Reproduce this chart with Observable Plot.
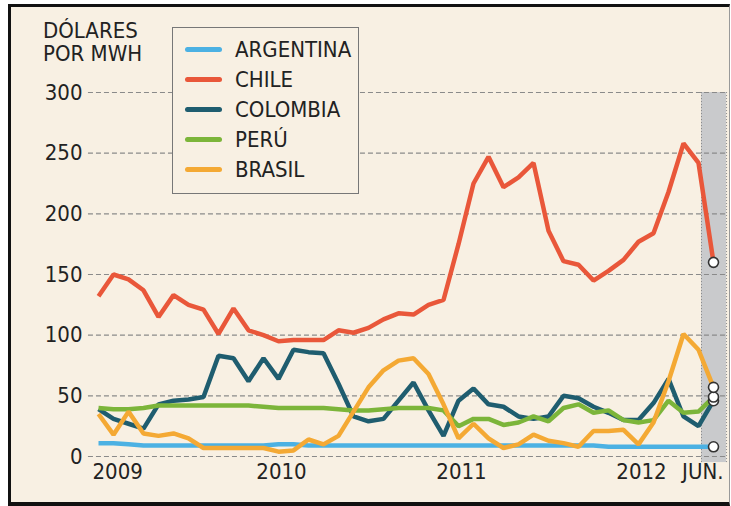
<!DOCTYPE html>
<html><head><meta charset="utf-8">
<script src="https://cdn.jsdelivr.net/npm/d3@7"></script>
<script src="https://cdn.jsdelivr.net/npm/@observablehq/plot@0.6"></script>
<style>
body{margin:0;background:#fff;}
#wrap{position:relative;width:731px;height:506px;overflow:hidden;font-family:"Liberation Sans Narrow","DejaVu Sans Condensed","Arial Narrow",sans-serif;font-stretch:condensed;color:#222;}
#frame{position:absolute;left:8px;top:4px;width:722px;height:502px;background:#f8f0e3;border-left:3px solid #111;border-top:3px solid #111;border-bottom:4px solid #111;border-right:1px solid #999;box-sizing:border-box;}
#chart{position:absolute;left:0;top:0;}
#ytitle{position:absolute;left:43px;top:19px;font-size:22px;line-height:23px;}
#legend{position:absolute;left:172px;top:27px;width:187px;height:167px;border:1.5px solid #777;box-sizing:border-box;background:#f8f0e3;padding-top:6px;}
.row{height:30px;display:flex;align-items:center;font-size:22px;}
.sw{width:37px;height:5px;border-radius:3px;margin-left:12px;margin-right:13px;}
</style></head>
<body>
<div id="wrap">
  <div id="frame"></div>
  <div id="chart"></div>
  <div id="ytitle">DÓLARES<br>POR MWH</div>
  <div id="legend"></div>
</div>
<script>
const seriesNames = ["ARGENTINA","CHILE","COLOMBIA","PERÚ","BRASIL"];
const seriesColors = ["#4cb1e3","#e9573a","#1f5d6f","#7cb53a","#f4a934"];
const yTicks = [0,50,100,150,200,250,300];
const xTickIndex = [0,12,24,36,41];
const xTickLabels = ["2009","2010","2011","2012","JUN."];
// monthly values, Jan 2009 .. Jun 2012
const argentina = [11,11,10,9,9,9,9,9,9,9,9,9, 10,10,9,9,9,9,9,9,9,9,9,9, 9,9,9,9,9,9,9,9,9,9,8,8, 8,8,8,8,8,8];
const chile = [132,150,146,137,115,133,125,121,101,122,104,100, 95,96,96,96,104,102,106,113,118,117,125,129, 175,225,247,222,230,242,186,161,158,145,153,162, 177,184,218,258,242,160];
const colombia = [39,31,27,23,43,46,47,49,83,81,62,81, 64,88,86,85,60,33,29,31,46,61,38,17, 46,56,43,41,33,31,33,50,48,41,36,30, 30,44,64,33,25,46];
const peru = [40,39,39,40,42,42,42,42,42,42,42,41, 40,40,40,40,39,38,38,39,40,40,40,38, 25,31,31,26,28,33,29,40,43,36,38,30, 28,30,46,36,37,49];
const brasil = [35,18,37,19,17,19,15,7,7,7,7,7, 4,5,14,10,17,37,57,71,79,81,68,43, 15,27,15,7,10,18,13,11,8,21,21,22, 10,28,62,101,88,57];
const seriesValues = [argentina, chile, colombia, peru, brasil];

const rows = [];
seriesNames.forEach((name, k) => seriesValues[k].forEach((v, i) => rows.push({name, i, v})));
const drawOrder = ["ARGENTINA","COLOMBIA","PERÚ","BRASIL","CHILE"];
const color = {domain: seriesNames, range: seriesColors};
const last = seriesNames.map((name, k) => ({name, i: seriesValues[k].length - 1, v: seriesValues[k][seriesValues[k].length - 1]}));

const plot = Plot.plot({
  width: 731, height: 506,
  marginLeft: 98, marginRight: 18, marginTop: 92, marginBottom: 50,
  x: {type: "linear", domain: [0, 41], axis: null},
  y: {domain: [0, 300], axis: null},
  color,
  style: {background: "transparent", fontFamily: '"Liberation Sans Narrow","DejaVu Sans Condensed","Arial Narrow",sans-serif', color: "#222"},
  marks: [
    Plot.rect([{}], {x1: 40.2, x2: 41.87, y1: -5, y2: 300, fill: "#c9cacc"}),
    Plot.ruleX([40.2, 41.87], {y1: -5, y2: 300, stroke: "#888", strokeDasharray: "1,2"}),
    Plot.ruleY(yTicks, {x1: -0.67, x2: 41.87, stroke: "#8a8a8a", strokeWidth: 1.2, strokeDasharray: "5,3"}),
    Plot.text(yTicks, {y: d => d, frameAnchor: "left", dx: -16, textAnchor: "end", fontSize: 22, fill: "#222"}),
    Plot.text(xTickIndex.slice(0,1), {x: d => d, text: (d, j) => xTickLabels[0], frameAnchor: "bottom", dy: 22, dx: -6, textAnchor: "start", fontSize: 22, fill: "#222"}),
    Plot.text(xTickIndex.slice(1,4), {x: d => d, text: (d, j) => xTickLabels[j + 1], frameAnchor: "bottom", dy: 22, dx: 3, fontSize: 22, fill: "#222"}),
    Plot.text(xTickIndex.slice(4), {x: d => d, text: (d, j) => xTickLabels[4], frameAnchor: "bottom", dy: 22, dx: 10, textAnchor: "end", fontSize: 22, fill: "#222"}),
    ...drawOrder.map(name => Plot.line(rows.filter(r => r.name === name), {x: "i", y: "v", stroke: "name", strokeWidth: 4.5, strokeLinejoin: "miter", strokeLinecap: "butt"})),
    Plot.dot(last, {x: "i", y: "v", r: 5, fill: "white", stroke: "#333", strokeWidth: 1.6})
  ]
});
document.getElementById("chart").appendChild(plot);

const legend = document.getElementById("legend");
seriesNames.forEach((name, k) => {
  const row = document.createElement("div");
  row.className = "row";
  const sw = document.createElement("div");
  sw.className = "sw";
  sw.style.background = seriesColors[k];
  const t = document.createElement("span");
  t.textContent = name;
  row.appendChild(sw); row.appendChild(t);
  legend.appendChild(row);
});
</script>
</body></html>
